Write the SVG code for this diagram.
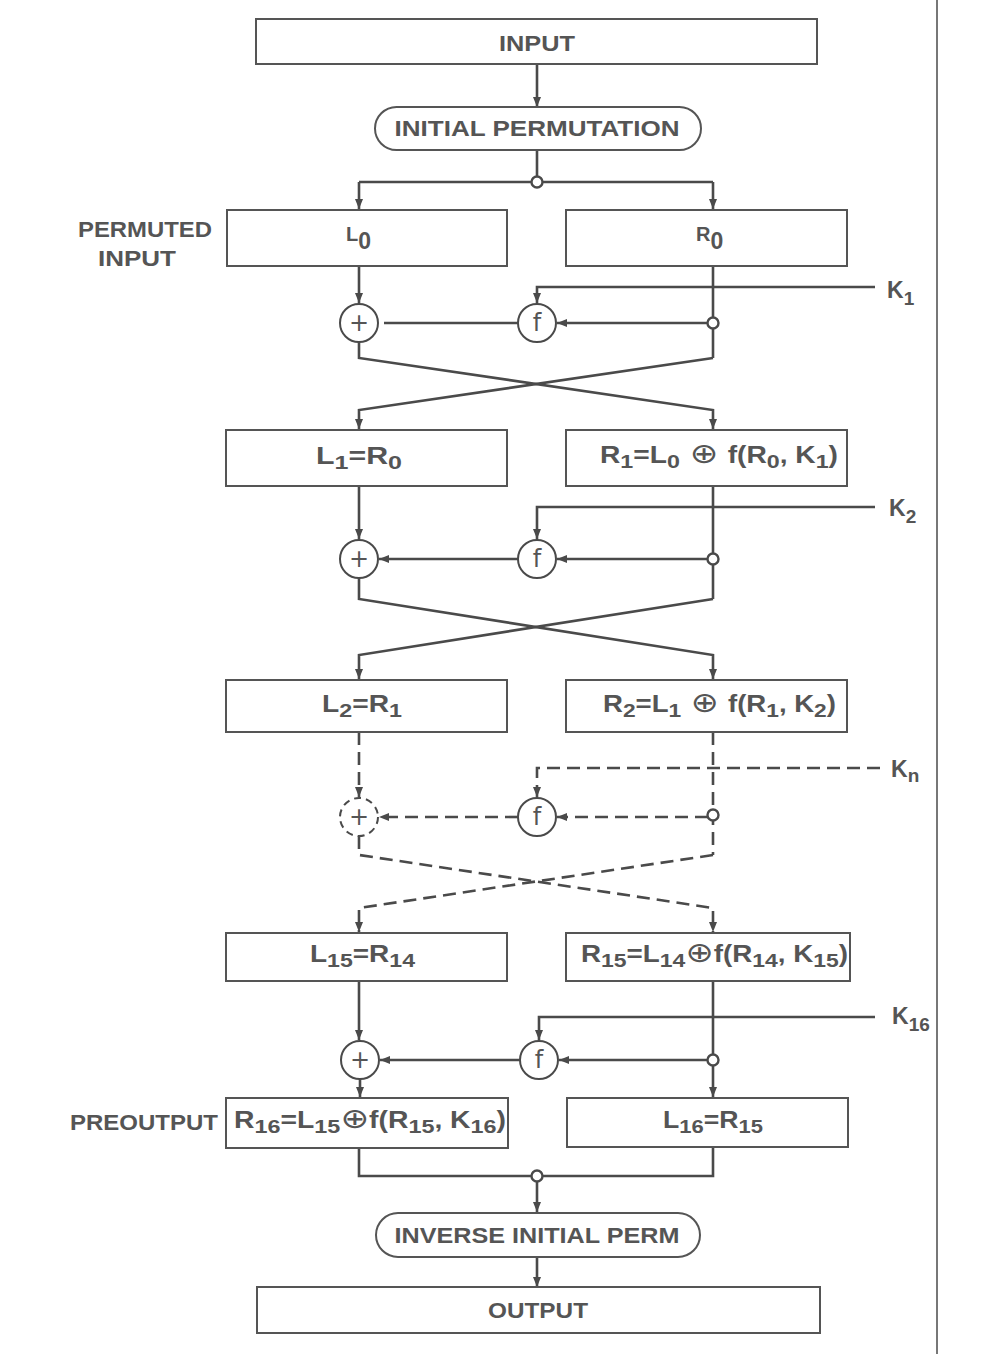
<svg xmlns="http://www.w3.org/2000/svg" width="1002" height="1354" viewBox="0 0 1002 1354">
  <defs>
    <marker id="ah" viewBox="0 0 10 8" refX="10" refY="4" markerWidth="10" markerHeight="8" markerUnits="userSpaceOnUse" orient="auto">
      <path d="M0,0 L10,4 L0,8 z" fill="#4a4a4a"/>
    </marker>
    <style>
      .box { fill: #fff; stroke: #555; stroke-width: 2; }
      .ln { fill: none; stroke: #4a4a4a; stroke-width: 2.6; }
      .arr { marker-end: url(#ah); }
      .dash { stroke-dasharray: 13 7; }
      .node { fill: #fff; stroke: #4a4a4a; stroke-width: 2; }
      .jn { fill: #fff; stroke: #4a4a4a; stroke-width: 2.4; }
      .t { font-family: "Liberation Sans", "DejaVu Sans", sans-serif; font-weight: bold; fill: #555; }
      .lbl { font-size: 22px; text-anchor: middle; }
      .eq { font-size: 23px; }
      .op { font-family: "DejaVu Sans", "Liberation Sans", sans-serif; font-size: 24px; fill: #555; text-anchor: middle; }
    </style>
  </defs>

  <rect width="1002" height="1354" fill="#fff"/>
  <!-- page edge on the right -->
  <line x1="937" y1="0" x2="937" y2="1354" stroke="#777" stroke-width="2"/>

  <g id="connectors">
    <!-- input to initial permutation, split into halves -->
    <path class="ln arr" d="M537,64 V107"/>
    <path class="ln" d="M537,150 V182 M359,182 H713"/>
    <path class="ln arr" d="M359,182 V209"/>
    <path class="ln arr" d="M713,182 V209"/>

    <!-- round 1 -->
    <path class="ln arr" d="M359,266 V303"/>
    <path class="ln" d="M713,266 V358"/>
    <path class="ln arr" d="M875,287 H537 V303"/>
    <path class="ln arr" d="M708,323 H557"/>
    <path class="ln" d="M518,323 H384"/>
    <path class="ln arr" d="M359,342 V358 L713,410 V429"/>
    <path class="ln arr" d="M713,358 L359,410 V429"/>

    <!-- round 2 -->
    <path class="ln arr" d="M359,486 V539"/>
    <path class="ln" d="M713,486 V599"/>
    <path class="ln arr" d="M875,507 H537 V539"/>
    <path class="ln arr" d="M708,559 H557"/>
    <path class="ln arr" d="M518,559 H379"/>
    <path class="ln arr" d="M359,578 V599 L713,655 V679"/>
    <path class="ln arr" d="M713,599 L359,655 V679"/>

    <!-- intermediate rounds -->
    <path class="ln dash arr" d="M359,732 V797"/>
    <path class="ln dash" d="M713,732 V855"/>
    <path class="ln dash arr" d="M880,768 H537 V797"/>
    <path class="ln dash arr" d="M708,817 H557"/>
    <path class="ln dash arr" d="M518,817 H379"/>
    <path class="ln dash arr" d="M359,836 V855 L713,908 V932"/>
    <path class="ln dash arr" d="M713,855 L359,908 V932"/>

    <!-- round 16 -->
    <path class="ln arr" d="M359,981 V1040"/>
    <path class="ln arr" d="M713,981 V1097"/>
    <path class="ln arr" d="M875,1017 H539 V1040"/>
    <path class="ln arr" d="M708,1060 H559"/>
    <path class="ln arr" d="M520,1060 H380"/>
    <path class="ln arr" d="M360,1079 V1097"/>

    <!-- preoutput to output -->
    <path class="ln" d="M359,1148 V1176 H713 V1147"/>
    <path class="ln arr" d="M537,1176 V1212"/>
    <path class="ln arr" d="M537,1257 V1287"/>

    <!-- branch points -->
    <circle class="jn" cx="537" cy="182" r="5.5"/>
    <circle class="jn" cx="713" cy="323" r="5.5"/>
    <circle class="jn" cx="713" cy="559" r="5.5"/>
    <circle class="jn" cx="713" cy="815" r="5.5"/>
    <circle class="jn" cx="713" cy="1060" r="5.5"/>
    <circle class="jn" cx="537" cy="1176" r="5.5"/>
  </g>

  <g id="input">
    <rect class="box" x="256" y="19" width="561" height="45"/>
    <text class="t lbl" x="537" y="51" textLength="76" lengthAdjust="spacingAndGlyphs">INPUT</text>
  </g>

  <g id="initial-permutation">
    <rect class="box" x="375" y="107" width="326" height="43" rx="21.5"/>
    <text class="t lbl" x="537" y="136" textLength="285" lengthAdjust="spacingAndGlyphs">INITIAL PERMUTATION</text>
  </g>

  <g id="permuted-input-label">
    <text class="t lbl" x="145" y="237" textLength="134" lengthAdjust="spacingAndGlyphs">PERMUTED</text>
    <text class="t lbl" x="137" y="266" textLength="78" lengthAdjust="spacingAndGlyphs">INPUT</text>
  </g>

  <g id="l0">
    <rect class="box" x="227" y="210" width="280" height="56"/>
    <text class="t" x="346" y="241" font-size="20">L<tspan font-size="23" dy="8">0</tspan></text>
  </g>
  <g id="r0">
    <rect class="box" x="566" y="210" width="281" height="56"/>
    <text class="t" x="696" y="241" font-size="20">R<tspan font-size="23" dy="8">0</tspan></text>
  </g>

  <g id="xor1">
    <circle class="node" cx="359" cy="323" r="19"/>
    <text class="op" x="359" y="331">+</text>
  </g>
  <g id="f1">
    <circle class="node" cx="537" cy="323" r="19"/>
    <text class="op" x="537" y="331">f</text>
  </g>
  <g id="k1">
    <text class="t" x="887" y="298" font-size="23">K<tspan font-size="19" dy="7">1</tspan></text>
  </g>

  <g id="l1">
    <rect class="box" x="226" y="430" width="281" height="56"/>
    <text class="t eq" x="316" y="464" textLength="86" lengthAdjust="spacingAndGlyphs">L<tspan font-size="19" dy="5">1</tspan><tspan dy="-5">=R</tspan><tspan font-size="19" dy="5">0</tspan></text>
  </g>
  <g id="r1">
    <rect class="box" x="566" y="430" width="281" height="56"/>
    <text class="t eq" x="600" y="463" textLength="238" lengthAdjust="spacingAndGlyphs">R<tspan font-size="19" dy="5">1</tspan><tspan dy="-5">=L</tspan><tspan font-size="19" dy="5">0</tspan><tspan dy="-5" font-weight="normal" font-size="28"> ⊕ </tspan>f(R<tspan font-size="19" dy="5">0</tspan><tspan dy="-5">, K</tspan><tspan font-size="19" dy="5">1</tspan><tspan dy="-5">)</tspan></text>
  </g>

  <g id="xor2">
    <circle class="node" cx="359" cy="559" r="19"/>
    <text class="op" x="359" y="567">+</text>
  </g>
  <g id="f2">
    <circle class="node" cx="537" cy="559" r="19"/>
    <text class="op" x="537" y="567">f</text>
  </g>
  <g id="k2">
    <text class="t" x="889" y="516" font-size="23">K<tspan font-size="19" dy="7">2</tspan></text>
  </g>

  <g id="l2">
    <rect class="box" x="226" y="680" width="281" height="52"/>
    <text class="t eq" x="322" y="712" textLength="80" lengthAdjust="spacingAndGlyphs">L<tspan font-size="19" dy="5">2</tspan><tspan dy="-5">=R</tspan><tspan font-size="19" dy="5">1</tspan></text>
  </g>
  <g id="r2">
    <rect class="box" x="566" y="680" width="281" height="52"/>
    <text class="t eq" x="603" y="712" textLength="233" lengthAdjust="spacingAndGlyphs">R<tspan font-size="19" dy="5">2</tspan><tspan dy="-5">=L</tspan><tspan font-size="19" dy="5">1</tspan><tspan dy="-5" font-weight="normal" font-size="28"> ⊕ </tspan>f(R<tspan font-size="19" dy="5">1</tspan><tspan dy="-5">, K</tspan><tspan font-size="19" dy="5">2</tspan><tspan dy="-5">)</tspan></text>
  </g>

  <g id="xor-n">
    <circle class="node" cx="359" cy="817" r="19" style="stroke-dasharray: 7 5"/>
    <text class="op" x="359" y="825">+</text>
  </g>
  <g id="f-n">
    <circle class="node" cx="537" cy="817" r="19"/>
    <text class="op" x="537" y="825">f</text>
  </g>
  <g id="kn">
    <text class="t" x="891" y="777" font-size="23">K<tspan font-size="19" dy="5">n</tspan></text>
  </g>

  <g id="l15">
    <rect class="box" x="226" y="933" width="281" height="48"/>
    <text class="t eq" x="310" y="962" textLength="105" lengthAdjust="spacingAndGlyphs">L<tspan font-size="19" dy="5">15</tspan><tspan dy="-5">=R</tspan><tspan font-size="19" dy="5">14</tspan></text>
  </g>
  <g id="r15">
    <rect class="box" x="566" y="933" width="284" height="48"/>
    <text class="t eq" x="581" y="962" textLength="267" lengthAdjust="spacingAndGlyphs">R<tspan font-size="19" dy="5">15</tspan><tspan dy="-5">=L</tspan><tspan font-size="19" dy="5">14</tspan><tspan dy="-5" font-weight="normal" font-size="28">⊕</tspan>f(R<tspan font-size="19" dy="5">14</tspan><tspan dy="-5">, K</tspan><tspan font-size="19" dy="5">15</tspan><tspan dy="-5">)</tspan></text>
  </g>

  <g id="xor16">
    <circle class="node" cx="360" cy="1060" r="19"/>
    <text class="op" x="360" y="1068">+</text>
  </g>
  <g id="f16">
    <circle class="node" cx="539" cy="1060" r="19"/>
    <text class="op" x="539" y="1068">f</text>
  </g>
  <g id="k16">
    <text class="t" x="892" y="1024" font-size="23">K<tspan font-size="19" dy="7">16</tspan></text>
  </g>

  <g id="preoutput-label">
    <text class="t lbl" x="144" y="1130" textLength="148" lengthAdjust="spacingAndGlyphs">PREOUTPUT</text>
  </g>
  <g id="r16">
    <rect class="box" x="226" y="1098" width="282" height="50"/>
    <text class="t eq" x="234" y="1128" textLength="272" lengthAdjust="spacingAndGlyphs">R<tspan font-size="19" dy="5">16</tspan><tspan dy="-5">=L</tspan><tspan font-size="19" dy="5">15</tspan><tspan dy="-5" font-weight="normal" font-size="28">⊕</tspan>f(R<tspan font-size="19" dy="5">15</tspan><tspan dy="-5">, K</tspan><tspan font-size="19" dy="5">16</tspan><tspan dy="-5">)</tspan></text>
  </g>
  <g id="l16">
    <rect class="box" x="567" y="1098" width="281" height="49"/>
    <text class="t eq" x="663" y="1128" textLength="100" lengthAdjust="spacingAndGlyphs">L<tspan font-size="19" dy="5">16</tspan><tspan dy="-5">=R</tspan><tspan font-size="19" dy="5">15</tspan></text>
  </g>

  <g id="inverse-initial-perm">
    <rect class="box" x="376" y="1213" width="324" height="44" rx="22"/>
    <text class="t lbl" x="537" y="1243" textLength="285" lengthAdjust="spacingAndGlyphs">INVERSE INITIAL PERM</text>
  </g>

  <g id="output">
    <rect class="box" x="257" y="1287" width="563" height="46"/>
    <text class="t lbl" x="538" y="1318" textLength="100" lengthAdjust="spacingAndGlyphs">OUTPUT</text>
  </g>
</svg>
